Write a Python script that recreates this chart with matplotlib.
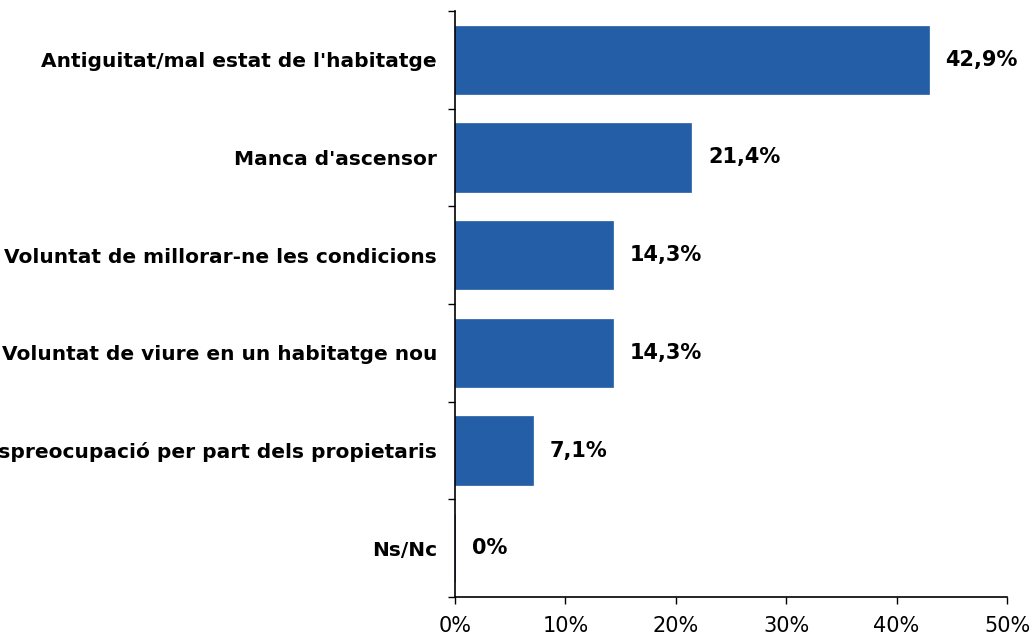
import matplotlib
matplotlib.use("Agg")
import matplotlib.pyplot as plt
from matplotlib.ticker import FixedLocator

categories = [
    "Antiguitat/mal estat de l'habitatge",
    "Manca d'ascensor",
    "Voluntat de millorar-ne les condicions",
    "Voluntat de viure en un habitatge nou",
    "Despreocupació per part dels propietaris",
    "Ns/Nc",
]
values = [42.9, 21.4, 14.3, 14.3, 7.1, 0.0]
value_labels = ["42,9%", "21,4%", "14,3%", "14,3%", "7,1%", "0%"]
xticks = [0, 10, 20, 30, 40, 50]
xtick_labels = ["0%", "10%", "20%", "30%", "40%", "50%"]

plt.rcParams["font.family"] = ["DejaVu Sans"]

fig = plt.figure(figsize=(10.32, 6.36), dpi=100)
ax = fig.add_axes([455 / 1032, 1 - 597 / 636, 552 / 1032, 586 / 636])

ypos = list(range(len(categories)))
ax.barh(ypos, values, height=0.7, color="#235EA7", edgecolor="#235EA7", lw=0.5)

for y, v, lab in zip(ypos, values, value_labels):
    ax.annotate(lab, (v, y), textcoords="offset points", xytext=(12, 0),
                ha="left", va="center", fontsize=15, fontweight="bold", color="black")

ax.set_ylim(len(categories) - 0.5, -0.5)
ax.set_xlim(0, 50)
ax.set_yticks(ypos)
ax.set_yticklabels(categories, fontsize=14.5, fontweight="bold")
ax.tick_params(axis="y", which="major", length=0, pad=13)
ax.yaxis.set_minor_locator(FixedLocator([i - 0.5 for i in range(len(categories) + 1)]))
ax.tick_params(axis="y", which="minor", length=5, width=1, direction="out")

ax.set_xticks(xticks)
ax.set_xticklabels(xtick_labels, fontsize=15)
ax.tick_params(axis="x", length=5, width=1, direction="out", pad=9)

for s in ["top", "right"]:
    ax.spines[s].set_visible(False)
ax.spines["left"].set_linewidth(1.2)
ax.spines["bottom"].set_linewidth(1.2)

fig.savefig("out.png", dpi=100)
